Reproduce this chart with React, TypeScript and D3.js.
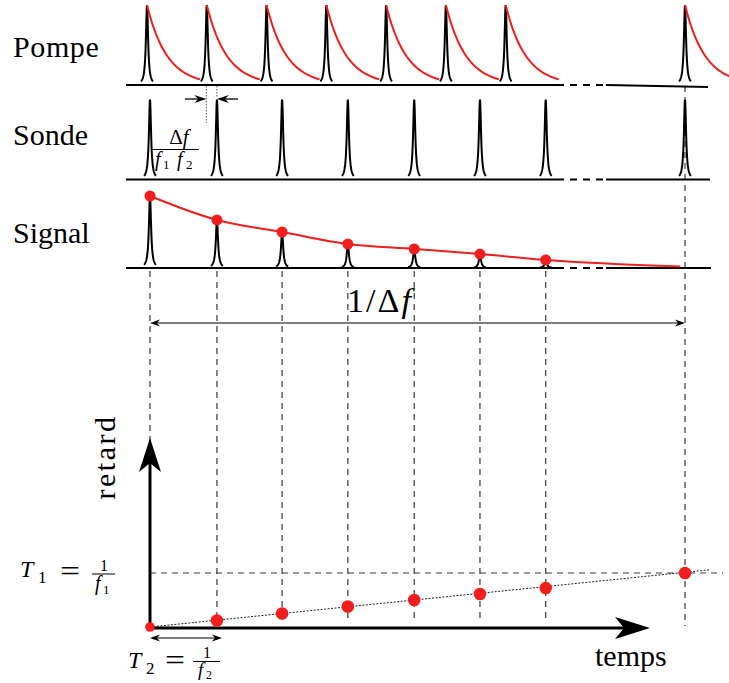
import React from "react";
import * as d3 from "d3";

// ---- data ----
const pumpTimes = [0, 1, 2, 3, 4, 5, 6, 9];
const probeTimes = [0.05, 1.17, 2.26, 3.36, 4.47, 5.57, 6.67, 9.0];
const signalAmp = [1.0, 0.667, 0.5, 0.333, 0.264, 0.194, 0.111];
const signalTailTime = 8.92;
const signalTailAmp = 0.02;
const delays = [0, 0.12, 0.25, 0.38, 0.5, 0.61, 0.72, 1.0];
const fitEnd = { t: 9.42, d: 1.06 };
const rowLabels = ["Pompe", "Sonde", "Signal"];

// ---- layout ----
const W = 729;
const H = 683;
const RED = "#f21d1d";
const FONT = "'Liberation Serif', 'Times New Roman', serif";

const x = d3.scaleLinear().domain([0, 9]).range([147, 685]);
const pumpBase = 85;
const pumpH = 80;
const probeBase = 179.5;
const probeH = 80;
const sigBase = 268;
const ySig = d3.scaleLinear().domain([0, 1]).range([sigBase, 196]);
const yDelay = d3.scaleLinear().domain([0, 1]).range([627, 573]);

const lorOffsets = d3.range(-6, 6.001, 0.25);
function pulse(cx: number, base: number, h: number) {
  return d3
    .line<number>()
    .x((d) => cx + d)
    .y((d) => base - h * (1.69 / (1.69 + d * d)))(lorOffsets) as string;
}
function decay(cx: number, base: number, h: number, len: number) {
  const offs = d3.range(0, len + 0.001, 1);
  return d3
    .line<number>()
    .x((d) => cx + d)
    .y((d) => base - h * Math.exp(-d / 20))(offs) as string;
}
function stealth(tx: number, ty: number, angle: number, L: number, w: number, notch: number) {
  const a = (angle * Math.PI) / 180;
  const c = Math.cos(a), s = Math.sin(a);
  const p = (u: number, v: number) => [tx + u * c - v * s, ty + u * s + v * c];
  const pts = [p(0, 0), p(-L, -w / 2), p(-notch, 0), p(-L, w / 2)];
  return "M" + pts.map((q) => q.join(",")).join("L") + "Z";
}

const signalPts: [number, number][] = [
  ...signalAmp.map((a, i) => [x(probeTimes[i]), ySig(a)] as [number, number]),
  [x(signalTailTime), ySig(signalTailAmp)],
];
const signalLine = d3.line().curve(d3.curveMonotoneX)(signalPts) as string;

function Baseline({ y, y2, end }: { y: number; y2?: number; end: number }) {
  return (
    <g stroke="#000" strokeWidth={2} fill="none">
      <line x1={126} y1={y} x2={557} y2={y} />
      <line x1={557} y1={y} x2={606} y2={y} strokeDasharray="7 6" />
      <line x1={606} y1={y} x2={end} y2={y2 ?? y} />
    </g>
  );
}

const T = (p: any) => <text fontFamily={FONT} fill="#000" {...p} />;

export default function App() {
  return (
    <svg
      width={W}
      height={H}
      style={{ position: "absolute", left: 0, top: 0, background: "#fff" }}
      fontFamily={FONT}
    >
      <rect width={W} height={H} fill="#fff" />
      {/* vertical dashed guide lines */}
      <g stroke="#3a3a3a" strokeWidth={1.2} strokeDasharray="6 5">
        {probeTimes.slice(0, 7).map((t, i) => (
          <line key={i} x1={x(t)} x2={x(t)} y1={sigBase + 3} y2={i === 0 ? 627 : 622} />
        ))}
        <line x1={x(probeTimes[7])} x2={x(probeTimes[7])} y1={pumpBase + 1} y2={626} />
        <line x1={x(probeTimes[0])} x2={723} y1={yDelay(1)} y2={yDelay(1)} />
      </g>

      {/* row labels */}
      {rowLabels.map((l, i) => (
        <T key={l} x={13} y={[57, 145, 243][i]} fontSize={30} letterSpacing={i === 0 ? 0.6 : 0}>
          {l}
        </T>
      ))}

      {/* Pompe */}
      <Baseline y={pumpBase} y2={87} end={708} />
      {pumpTimes.map((t, i) => (
        <g key={i}>
          <path d={pulse(x(t), pumpBase, pumpH)} stroke="#000" strokeWidth={2} fill="none" />
          <path
            d={decay(x(t), pumpBase, pumpH, i === pumpTimes.length - 1 ? 46 : 53)}
            stroke={RED}
            strokeWidth={2}
            fill="none"
          />
        </g>
      ))}

      {/* Sonde */}
      <Baseline y={probeBase} end={710} />
      {probeTimes.map((t, i) => (
        <path key={i} d={pulse(x(t), probeBase, probeH)} stroke="#000" strokeWidth={2} fill="none" />
      ))}

      {/* delay marker between pump and probe */}
      <g stroke="#555" strokeWidth={1} strokeDasharray="1.5 1.5">
        <line x1={x(pumpTimes[1]) - 0.5} x2={x(pumpTimes[1]) - 0.5} y1={pumpBase + 1} y2={123} />
        <line x1={x(probeTimes[1])} x2={x(probeTimes[1])} y1={pumpBase + 1} y2={98} />
      </g>
      <g stroke="#000" strokeWidth={1.3}>
        <line x1={185} x2={200} y1={99} y2={99} />
        <line x1={238} x2={223} y1={99} y2={99} />
      </g>
      <path d={stealth(x(pumpTimes[1]) - 0.5, 99, 0, 12, 8, 8)} fill="#000" />
      <path d={stealth(x(probeTimes[1]), 99, 180, 12, 8, 8)} fill="#000" />
      <T x={179} y={144} fontSize={21} textAnchor="middle">
        Δ<tspan fontStyle="italic">f</tspan>
      </T>
      <line x1={152} x2={199} y1={149.5} y2={149.5} stroke="#000" strokeWidth={1} />
      <T x={155} y={166} fontSize={20} fontStyle="italic">f</T>
      <T x={163} y={169} fontSize={13}>1</T>
      <T x={177} y={166} fontSize={20} fontStyle="italic">f</T>
      <T x={186} y={169} fontSize={13}>2</T>

      {/* Signal */}
      <Baseline y={sigBase} end={711} />
      {signalAmp.map((a, i) => (
        <path
          key={i}
          d={pulse(x(probeTimes[i]), sigBase, sigBase - ySig(a))}
          stroke="#000"
          strokeWidth={2}
          fill="none"
        />
      ))}
      <path d={signalLine} stroke={RED} strokeWidth={2} fill="none" />
      {signalAmp.map((a, i) => (
        <circle key={i} cx={x(probeTimes[i])} cy={ySig(a)} r={5.5} fill={RED} />
      ))}

      {/* 1/Δf arrow */}
      <line x1={x(probeTimes[0]) + 6} x2={x(probeTimes[7]) - 6} y1={323} y2={323} stroke="#000" strokeWidth={1.2} />
      <path d={stealth(x(probeTimes[0]), 323, 180, 10, 7, 7)} fill="#000" />
      <path d={stealth(x(probeTimes[7]), 323, 0, 10, 7, 7)} fill="#000" />
      <T x={380} y={312} fontSize={34} textAnchor="middle" letterSpacing={2}>
        1/Δ<tspan fontStyle="italic">f</tspan>
      </T>

      {/* bottom delay plot */}
      <line
        x1={x(probeTimes[0])}
        y1={yDelay(delays[0])}
        x2={x(fitEnd.t)}
        y2={yDelay(fitEnd.d)}
        stroke="#222"
        strokeWidth={1}
        strokeDasharray="2 1.5"
      />
      <g stroke="#000" strokeWidth={3}>
        <line x1={150} x2={150} y1={628} y2={462} />
        <line x1={149} x2={626} y1={628} y2={628} />
      </g>
      <path d={stealth(150, 438, -90, 34, 22, 25)} fill="#000" />
      <path d={stealth(650, 628, 0, 35, 22, 26)} fill="#000" />
      {delays.map((d, i) => (
        <circle key={i} cx={x(probeTimes[i])} cy={yDelay(d)} r={i === 0 ? 4.8 : 6.3} fill={RED} />
      ))}

      {/* T2 arrow */}
      <line x1={155} x2={216} y1={638} y2={638} stroke="#000" strokeWidth={1.2} />
      <path d={stealth(150, 638, 180, 10, 7, 7)} fill="#000" />
      <path d={stealth(222, 638, 0, 10, 7, 7)} fill="#000" />

      {/* axis labels */}
      <T transform="translate(115,457) rotate(-90)" fontSize={30} textAnchor="middle" letterSpacing={2.5}>
        retard
      </T>
      <T x={595} y={666} fontSize={30}>
        temps
      </T>

      {/* T1 = 1/f1 */}
      <T x={20} y={577} fontSize={24} fontStyle="italic">T</T>
      <T x={38} y={583} fontSize={17}>1</T>
      <T x={60} y={581} fontSize={30} textLength={20} lengthAdjust="spacingAndGlyphs">=</T>
      <T x={104} y={571} fontSize={16} textAnchor="middle">1</T>
      <line x1={92} x2={115} y1={574} y2={574} stroke="#000" strokeWidth={1} />
      <T x={95} y={590} fontSize={20} fontStyle="italic">f</T>
      <T x={103} y={594} fontSize={13}>1</T>

      {/* T2 = 1/f2 */}
      <T x={128} y={668} fontSize={24} fontStyle="italic">T</T>
      <T x={146} y={674} fontSize={17}>2</T>
      <T x={165} y={670} fontSize={30} textLength={20} lengthAdjust="spacingAndGlyphs">=</T>
      <T x={207} y={658} fontSize={16} textAnchor="middle">1</T>
      <line x1={193} x2={220} y1={661.5} y2={661.5} stroke="#000" strokeWidth={1} />
      <T x={198} y={676} fontSize={19} fontStyle="italic">f</T>
      <T x={206} y={679} fontSize={12}>2</T>
    </svg>
  );
}
